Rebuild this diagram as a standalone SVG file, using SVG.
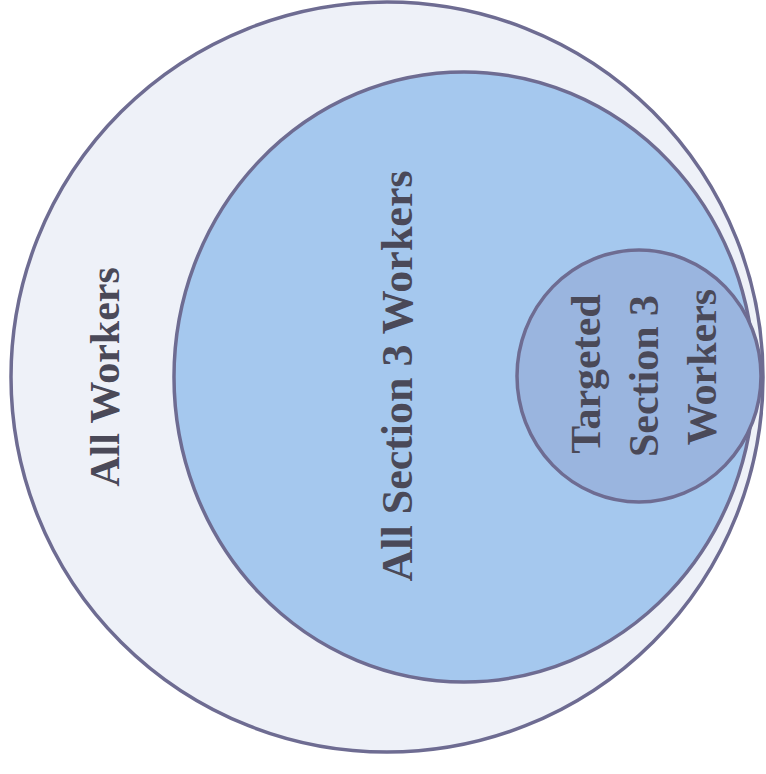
<svg xmlns="http://www.w3.org/2000/svg" width="766" height="774" viewBox="0 0 766 774">
<style>
.ring{stroke:#6e6c92;stroke-width:3.5}
.lbl{font-family:"Liberation Serif","Times New Roman",serif;font-weight:bold;fill:#4a4958;text-anchor:middle}
</style>
<rect width="766" height="774" fill="#ffffff"/>
<g id="all-workers">
<ellipse class="ring" cx="387" cy="377" rx="376" ry="375" fill="#eef1f8"/>
<text class="lbl" font-size="42" transform="translate(119,377) rotate(-90)">All Workers</text>
</g>
<g id="all-section3-workers">
<ellipse class="ring" cx="464" cy="377" rx="290" ry="305" fill="#a5c8ee"/>
<text class="lbl" font-size="44" transform="translate(412,376) rotate(-90)">All Section 3 Workers</text>
</g>
<g id="targeted-section3-workers">
<ellipse class="ring" cx="639" cy="376" rx="122" ry="126" fill="#9ab5df"/>
<text class="lbl" font-size="42" transform="translate(600,374) rotate(-90)">Targeted</text>
<text class="lbl" font-size="42" transform="translate(658,376) rotate(-90)">Section 3</text>
<text class="lbl" font-size="42" transform="translate(716,367) rotate(-90)">Workers</text>
</g>
<g id="connectors"></g>
</svg>
